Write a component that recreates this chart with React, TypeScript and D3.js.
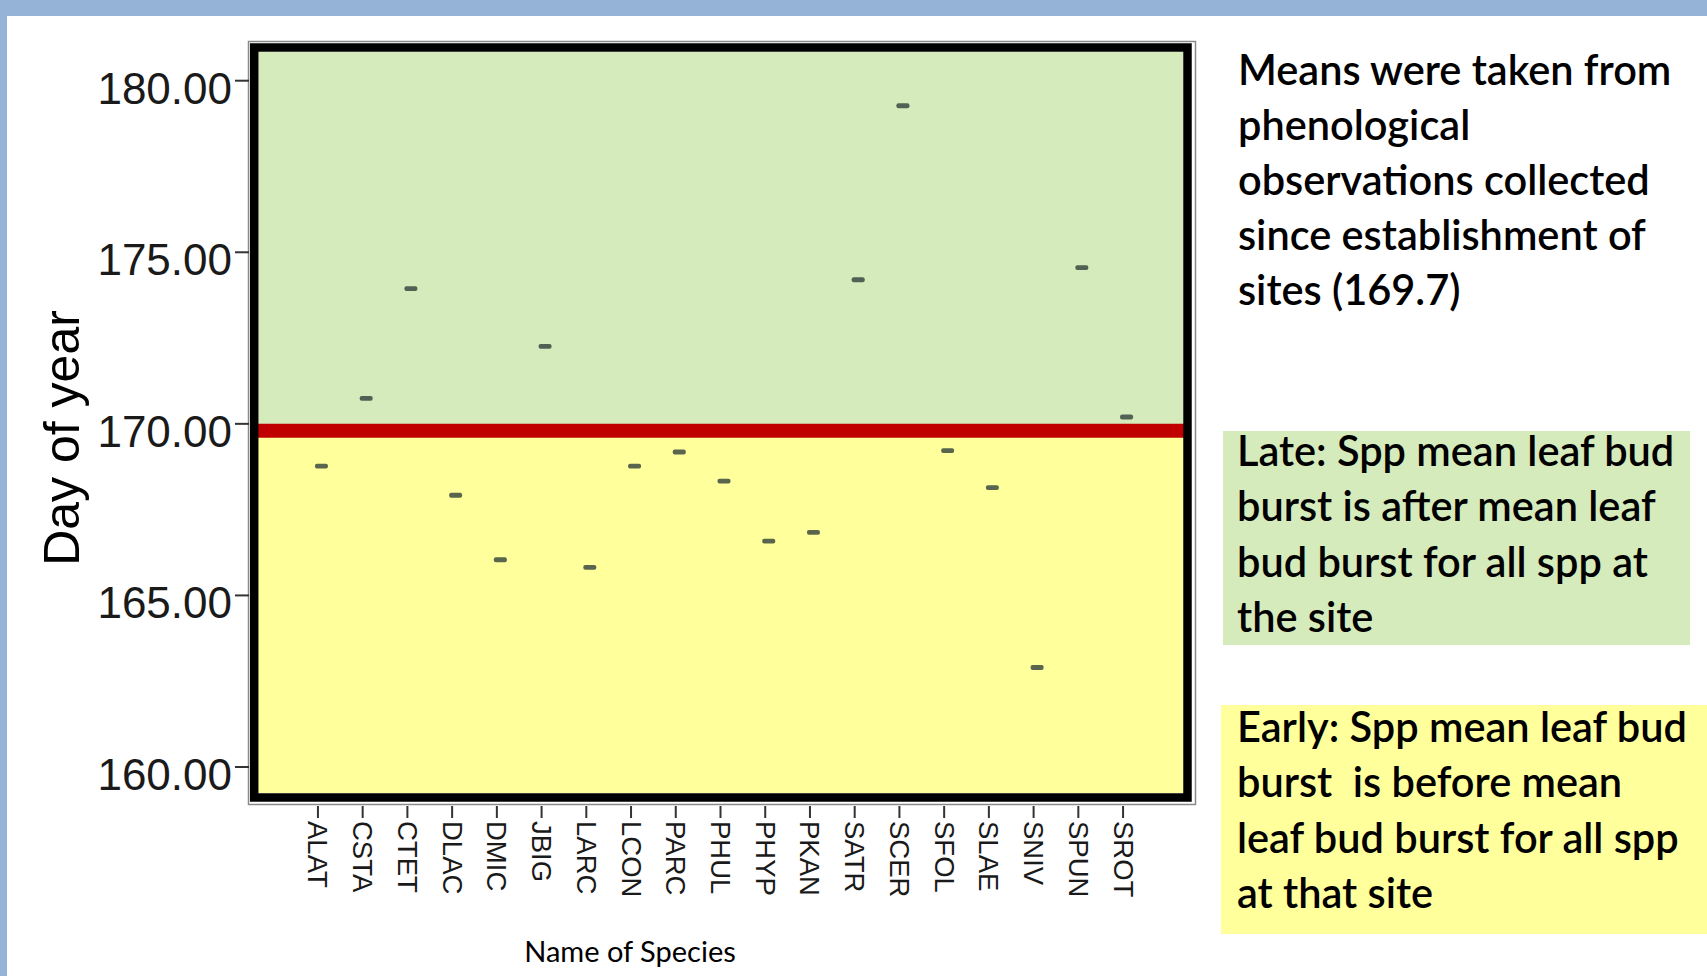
import React from "react";
import * as d3 from "d3";

const species = ["ALAT","CSTA","CTET","DLAC","DMIC","JBIG","LARC","LCON","PARC","PHUL","PHYP","PKAN","SATR","SCER","SFOL","SLAE","SNIV","SPUN","SROT"];
const meanDay = [168.77,170.74,173.94,167.92,166.04,172.26,165.82,168.77,169.18,168.33,166.58,166.84,174.2,179.27,169.22,168.14,162.9,174.55,170.2];
const yTicks = [160, 165, 170, 175, 180];
const siteMean = 169.8;

const noteLines = ["Means were taken from", "phenological", "observations collected", "since establishment of", "sites (169.7)"];
const lateLines = ["Late: Spp mean leaf bud", "burst is after mean leaf", "bud burst for all spp at", "the site"];
const earlyLines = ["Early: Spp mean leaf bud", "burst  is before mean", "leaf bud burst for all spp", "at that site"];

const W = 1707, H = 976;
const plot = { left: 258, right: 1183, top: 52, bottom: 793 };

export default function App() {
  const x = d3.scalePoint<string>().domain(species).range([plot.left, plot.right]).padding(1.34);
  const y = d3.scaleLinear().domain([160, 180]).range([767, 80.7]);
  const yMean = y(siteMean);
  const axisFont = "'Liberation Sans', Arial, sans-serif";
  const textFont = "Lato, 'Open Sans', sans-serif";
  const noteSize = 41.5;
  const noteWeight = 600;

  return (
    <svg width={W} height={H} style={{ position: "absolute", left: 0, top: 0, background: "#fff" }}>
      {/* slide frame */}
      <rect x={0} y={0} width={W} height={16} fill="#95b3d7" />
      <rect x={0} y={0} width={7} height={H} fill="#95b3d7" />

      {/* regions */}
      <rect x={plot.left} y={plot.top} width={plot.right - plot.left} height={yMean - plot.top} fill="#d5ebbc" />
      <rect x={plot.left} y={yMean} width={plot.right - plot.left} height={plot.bottom - yMean} fill="#ffff9c" />

      {/* markers */}
      {species.map((s, i) => (
        <rect key={s} x={(x(s) as number) - 3} y={y(meanDay[i]) - 2.4} width={13} height={4.8} rx={2}
          fill="#2f3f3a" opacity={0.8} />
      ))}

      {/* mean line */}
      <line x1={plot.left - 2} x2={plot.right + 5} y1={yMean} y2={yMean} stroke="#c00000" strokeWidth={14} />

      {/* frame */}
      <rect x={248.5} y={41.5} width={947} height={763} fill="none" stroke="#8a8a8a" strokeWidth={1.5} />
      <rect x={254.2} y={47.5} width={933.3} height={750} fill="none" stroke="#000" strokeWidth={8.5} />

      {/* y axis */}
      {yTicks.map(t => (
        <g key={t}>
          <line x1={235} x2={249} y1={y(t)} y2={y(t)} stroke="#333" strokeWidth={2} />
          <text x={232} y={y(t) + 23} textAnchor="end" fontFamily={axisFont} fontSize={44} fill="#1a1a1a">
            {d3.format(".2f")(t)}
          </text>
        </g>
      ))}
      <text transform={`translate(79,438) rotate(-90)`} textAnchor="middle" fontFamily={axisFont} fontSize={50} fill="#000">
        Day of year
      </text>

      {/* x axis */}
      {species.map(s => (
        <g key={s}>
          <line x1={x(s)} x2={x(s)} y1={806} y2={818} stroke="#333" strokeWidth={2} />
          <text transform={`translate(${x(s)},821) rotate(90)`} dominantBaseline="central" fontFamily={axisFont}
            fontSize={27.5} fill="#1a1a1a">{s}</text>
        </g>
      ))}
      <text x={630} y={962} textAnchor="middle" fontFamily={textFont} fontSize={29} fill="#000">Name of Species</text>

      {/* notes */}
      {noteLines.map((l, i) => (
        <text key={i} x={1238} y={85 + i * 55} fontFamily={textFont} fontSize={noteSize} fontWeight={noteWeight} fill="#000" style={{ whiteSpace: "pre" }}>{l}</text>
      ))}
      <rect x={1223} y={431} width={467} height={214} fill="#d5ebbc" />
      {lateLines.map((l, i) => (
        <text key={i} x={1237} y={466 + i * 55.3} fontFamily={textFont} fontSize={noteSize} fontWeight={noteWeight} fill="#000" style={{ whiteSpace: "pre" }}>{l}</text>
      ))}
      <rect x={1221} y={705} width={486} height={229} fill="#ffff9c" />
      {earlyLines.map((l, i) => (
        <text key={i} x={1237} y={742 + i * 55.3} fontFamily={textFont} fontSize={noteSize} fontWeight={noteWeight} fill="#000" style={{ whiteSpace: "pre" }}>{l}</text>
      ))}
    </svg>
  );
}
